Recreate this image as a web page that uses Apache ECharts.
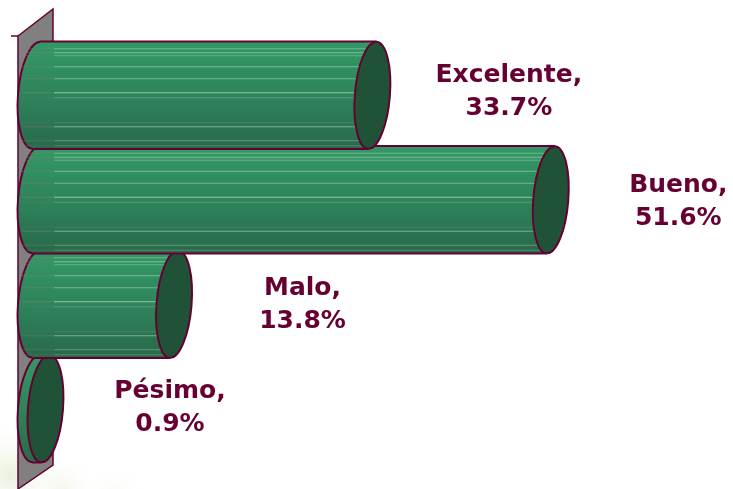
<!DOCTYPE html>
<html><head><meta charset="utf-8">
<style>html,body{margin:0;padding:0;background:#fff}#c{width:733px;height:489px}</style>
<script src="https://cdn.jsdelivr.net/npm/echarts@6/dist/echarts.min.js"></script>
</head><body><div id="c"></div>
<script>
const categories = ["Pésimo", "Malo", "Bueno", "Excelente"];
const values = [0.9, 13.8, 51.6, 33.7];
const labelShift = [107, 111, 110, 119];
const labelRise = [-1, 1, 2, -3];
const stripeY = [-47,-43,-40,-29,-17,-3,2,27,31,45,50];
const stripeA = [.4,.5,.35,.5,.45,.65,.25,.15,.5,.35,.25];

const line = '#660033';
const chart = echarts.init(document.getElementById('c'), null, {renderer:'canvas'});

function renderItem(params, api){
  const i = params.dataIndex;
  const p = api.coord([api.value(1), api.value(0)]);
  const o = api.coord([0, api.value(0)]);
  const band = api.size([0,1])[1];
  const ry = band/2 + 1.5, rx = 17.5, back = 18.5, tilt = 0.08, lean = 4;
  const cy = p[1];
  const grad = () => new echarts.graphic.LinearGradient(0,0,0,1,[
    {offset:0,color:'#339966'},{offset:0.55,color:'#2e8259'},{offset:1,color:'#28694a'}]);
  const children = [];
  children.push({type:'ellipse',shape:{cx:o[0],cy:cy,rx:back,ry:ry},
    originX:o[0],originY:cy,rotation:-tilt,style:{fill:grad(),stroke:line,lineWidth:2}});
  children.push({type:'polygon',shape:{points:[[o[0]+lean,cy-ry],[p[0]+lean,cy-ry],[p[0]-lean,cy+ry],[o[0]-lean,cy+ry]]},
    style:{fill:grad(),stroke:'none'}});
  children.push({type:'line',shape:{x1:o[0]+lean,y1:cy-ry,x2:p[0]+lean,y2:cy-ry},style:{stroke:line,lineWidth:2}});
  children.push({type:'line',shape:{x1:o[0]-lean,y1:cy+ry,x2:p[0]-lean,y2:cy+ry},style:{stroke:line,lineWidth:2}});
  if (p[0]-rx > 54) stripeY.forEach((s,k)=>{
    children.push({type:'line',shape:{x1:22,y1:cy+s+0.5,x2:53,y2:cy+s+0.5},
      style:{stroke:'rgba(120,130,120,'+stripeA[k]+')',lineWidth:1}});
    children.push({type:'line',shape:{x1:54,y1:cy+s+0.5,x2:p[0],y2:cy+s+0.5},
      style:{stroke:'rgba(205,230,210,'+stripeA[k]+')',lineWidth:1}});
  });
  children.push({type:'ellipse',shape:{cx:p[0],cy:cy,rx:rx,ry:ry},
    originX:p[0],originY:cy,rotation:-tilt,style:{fill:'#1f5236',stroke:line,lineWidth:2}});
  children.push({type:'text',style:{
    text:categories[i]+',\n'+values[i].toFixed(1)+'%',
    x:p[0]+rx+labelShift[i],y:cy+labelRise[i],
    align:'center',verticalAlign:'middle',
    font:'bold 25px "DejaVu Sans"',lineHeight:33,fill:line}});
  return {type:'group',children};
}

const blotch = (cx,cy,r,c)=>({type:'circle',z:-1,shape:{cx,cy,r},style:{
  fill:new echarts.graphic.RadialGradient(.5,.5,.5,[{offset:0,color:c},{offset:1,color:'rgba(255,255,255,0)'}])}});

chart.setOption({
  animation:false,
  grid:{left:36.5,top:43,width:598,height:418,containLabel:false},
  xAxis:{type:'value',min:0,max:60,show:false},
  yAxis:{type:'category',data:categories,show:false},
  graphic:[
    blotch(10,475,55,'rgba(228,236,212,.8)'),
    blotch(62,492,38,'rgba(236,241,224,.7)'),
    blotch(115,495,30,'rgba(244,246,236,.6)'),
    {type:'polygon',z:0,shape:{points:[[18,36],[53,9],[53,465],[18,489]]},style:{fill:'#808080',stroke:line,lineWidth:1.5}},
    {type:'line',z:0,shape:{x1:11,y1:36,x2:18,y2:36},style:{stroke:line,lineWidth:1.5}}
  ],
  series:[{type:'custom',renderItem,encode:{x:1,y:0},
    data:values.map((v,i)=>[i,v]),clip:false,z:5}]
});
</script></body></html>
